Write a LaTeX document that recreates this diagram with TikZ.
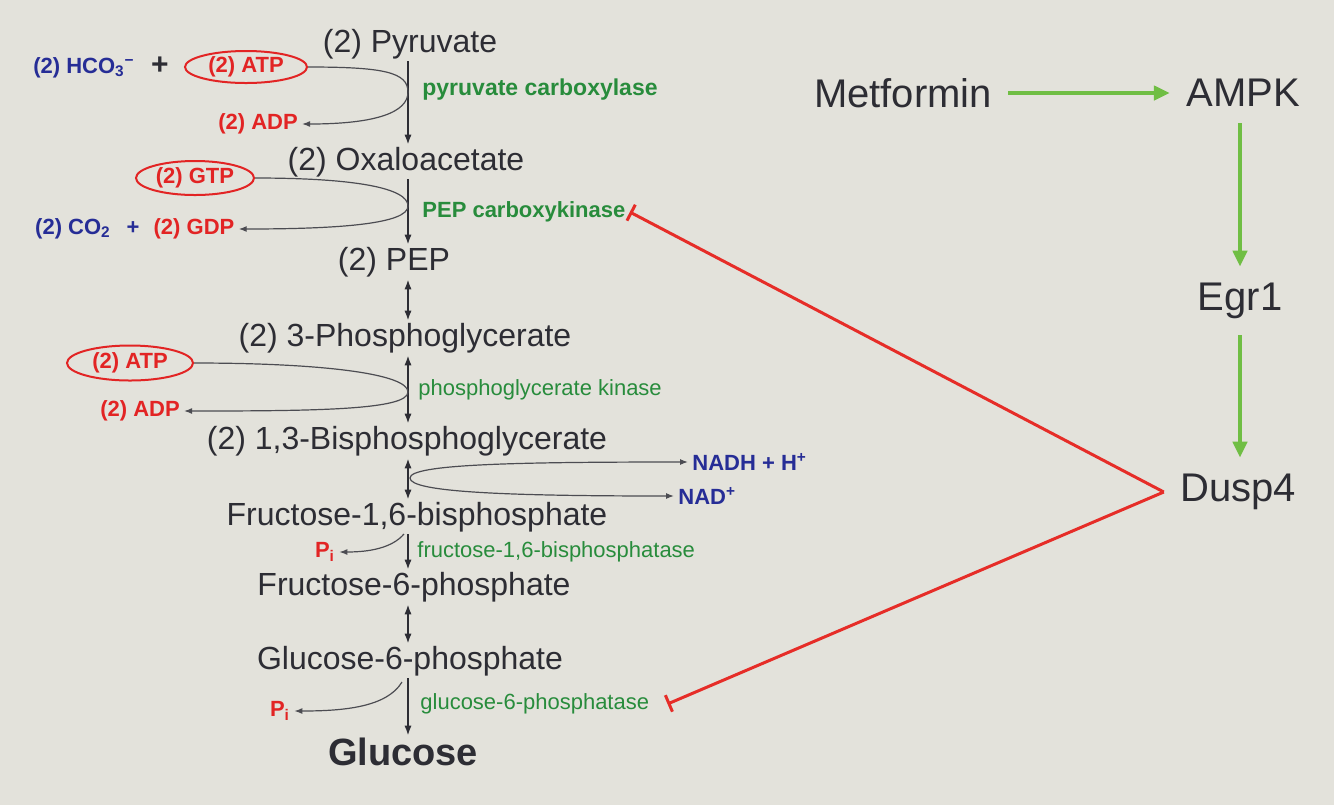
\documentclass[tikz,border=0pt]{standalone}
\usepackage{fontspec}
\setmainfont{Liberation Sans}
\usepackage{tikz}
\usetikzlibrary{arrows.meta,shapes.geometric}
\definecolor{ink}{RGB}{45,45,52}
\definecolor{paper}{RGB}{227,226,219}
\definecolor{cofblue}{RGB}{38,45,150}
\definecolor{cofred}{RGB}{226,36,36}
\definecolor{enzgreen}{RGB}{40,140,60}
\definecolor{actgreen}{RGB}{112,190,68}
\definecolor{inhred}{RGB}{230,45,40}

\begin{document}
\begin{tikzpicture}[x=0.5pt,y=-0.5pt,
  metab/.style={text=ink,font=\fontsize{16}{19}\selectfont,inner sep=1pt},
  cof/.style={font=\bfseries\fontsize{11}{13}\selectfont,inner sep=2pt},
  coin/.style={ellipse,draw=cofred,line width=1pt,text=cofred,inner sep=0pt,
    font=\bfseries\fontsize{11}{13}\selectfont},
  enz/.style={anchor=west,text=enzgreen,inner sep=2pt,font=\fontsize{11}{13}\selectfont},
  sig/.style={text=ink,inner sep=8pt,font=\fontsize{20}{24}\selectfont},
  rx/.style={-{Latex[length=5pt,width=3.6pt]},line width=0.9pt,draw=ink},
  rev/.style={{Latex[length=5pt,width=3.6pt]}-{Latex[length=5pt,width=3.6pt]},line width=0.9pt,draw=ink},
  sidearc/.style={-{Latex[length=4pt,width=3pt]},line width=0.6pt,draw=ink!85},
  act/.style={-{Triangle[length=8pt,width=7pt]},line width=2pt,draw=actgreen},
  inh/.style={-{Bar[width=9pt,line width=1.5pt]},line width=1.5pt,draw=inhred}]
\useasboundingbox (0,0) rectangle (1334,805);
\fill[paper] (0,0) rectangle (1334,805);

% gluconeogenesis
\coordinate (ax) at (408,0);
\node[metab] (pyr) at (410,44) {(2) Pyruvate};
\node[metab] (oaa) at (406,162) {(2) Oxaloacetate};
\node[metab] (pep) at (394,262) {(2) PEP};
\node[metab] (pga) at (405,338) {(2) 3-Phosphoglycerate};
\node[metab] (bpg) at (407,441) {(2) 1,3-Bisphosphoglycerate};
\node[metab] (fbp) at (417,517) {Fructose-1,6-bisphosphate};
\node[metab] (f6p) at (414,587) {Fructose-6-phosphate};
\node[metab] (g6p) at (410,661) {Glucose-6-phosphate};
\node[metab,font=\bfseries\fontsize{19}{22}\selectfont] (glc) at (403,752) {Glucose};

\draw[rx] (pyr.south -| ax) -- (oaa.north -| ax);
\draw[rx] (oaa.south -| ax) -- (pep.north -| ax);
\draw[rev] (pep.south -| ax) -- (pga.north -| ax);
\draw[rev] (pga.south -| ax) -- (bpg.north -| ax);
\draw[rev] (bpg.south -| ax) -- (fbp.north -| ax);
\draw[rx] (fbp.south -| ax) -- (f6p.north -| ax);
\draw[rev] (f6p.south -| ax) -- (g6p.north -| ax);
\draw[rx] (g6p.south -| ax) -- (glc.north -| ax);

% enzymes
\node[enz,font=\bfseries\fontsize{11.5}{13}\selectfont] (pc) at (418,90) {pyruvate carboxylase};
\node[enz,font=\bfseries\fontsize{11}{13}\selectfont] (pepck) at (418,212) {PEP carboxykinase};
\node[enz] (pgk) at (414,390) {phosphoglycerate kinase};
\node[enz] (fbpase) at (413,552) {fructose-1,6-bisphosphatase};
\node[enz] (g6pase) at (416,704) {glucose-6-phosphatase};

% cofactors
\node[cof,text=cofblue] (hco) at (84,68) {(2) HCO\textsubscript{3}\textsuperscript{−}};
\node[cof,text=ink,font=\bfseries\fontsize{15}{17}\selectfont] (plusa) at (160,66) {+};
\node[coin,minimum width=61pt,minimum height=16pt] (atpa) at (246,67) {(2) ATP};
\node[cof,text=cofred] (adpa) at (258,124) {(2) ADP};
\node[coin,minimum width=59pt,minimum height=17pt] (gtp) at (195,178) {(2) GTP};
\node[cof,text=cofblue] (co) at (73,229) {(2) CO\textsubscript{2}};
\node[cof,text=cofblue] (plusb) at (133,228) {+};
\node[cof,text=cofred] (gdp) at (194,229) {(2) GDP};
\node[coin,minimum width=63pt,minimum height=17.5pt] (atpb) at (130,363) {(2) ATP};
\node[cof,text=cofred] (adpb) at (140,411) {(2) ADP};
\node[cof,text=cofblue,anchor=west] (nadh) at (688,462) {NADH + H\textsuperscript{+}};
\node[cof,text=cofblue,anchor=west] (nad) at (674,496) {NAD\textsuperscript{+}};
\node[cof,text=cofred] (pia) at (325,552) {P\textsubscript{i}};
\node[cof,text=cofred] (pib) at (280,711) {P\textsubscript{i}};

\coordinate (pcx) at (408,92);
\coordinate (pckx) at (408,206);
\coordinate (pgkx) at (408,392);
\coordinate (gapx) at (410,478);
\coordinate (fbpx) at (404,534);
\coordinate (g6px) at (402,682);
\draw[sidearc] (atpa.east) .. controls +(75,0) and +(0,-20) .. (pcx)
  .. controls +(0,20) and +(75,0) .. (adpa.east);
\draw[sidearc] (gtp.east) .. controls +(100,0) and +(0,-18) .. (pckx)
  .. controls +(0,18) and +(100,0) .. (gdp.east);
\draw[sidearc] (atpb.east) .. controls +(130,0) and +(0,-18) .. (pgkx)
  .. controls +(0,18) and +(130,0) .. (adpb.east);
\draw[sidearc] (gapx) .. controls +(0,-14) and +(-170,0) .. (nadh.west);
\draw[sidearc] (gapx) .. controls +(0,14) and +(-170,0) .. (nad.west);
\draw[sidearc] (fbpx) .. controls +(-12,14) and +(30,0) .. (pia.east);
\draw[sidearc] (g6px) .. controls +(-15,25) and +(50,0) .. (pib.east);

% signalling
\node[sig] (met) at (903,93) {Metformin};
\node[sig] (ampk) at (1243,93) {AMPK};
\node[sig] (egr) at (1240,301) {Egr1};
\node[sig] (dusp) at (1238,492) {Dusp4};
\draw[act] (met) -- (ampk);
\draw[act] (ampk.south -| egr) -- (egr.north);
\draw[act] (egr.south) -- (egr.south |- dusp.north);
\draw[inh] (dusp.west) -- (pepck.east);
\draw[inh] (dusp.west) -- ([xshift=7pt]g6pase.east);
\end{tikzpicture}
\end{document}
